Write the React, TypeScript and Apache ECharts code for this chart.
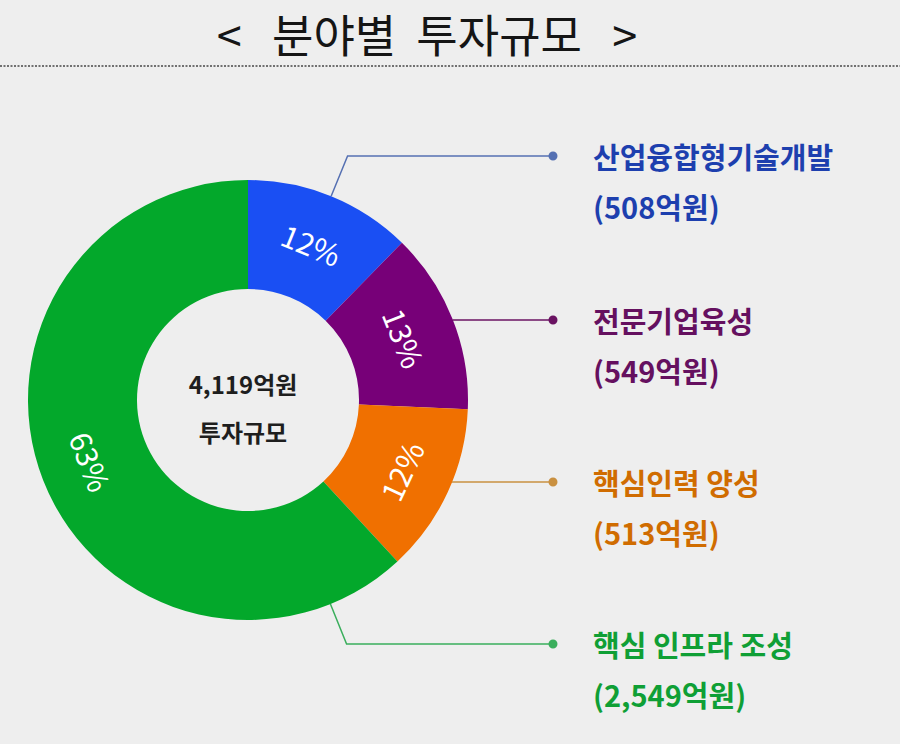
import React, { useEffect, useRef } from "react";
import * as echarts from "echarts";

// ---- data ----
const categories = ["산업융합형기술개발", "전문기업육성", "핵심인력 양성", "핵심 인프라 조성"];
const amounts = [508, 549, 513, 2549]; // 억원
const percentLabels = [12, 13, 12, 63];
const titleText = "<   분야별  투자규모   >";
const centerCaption = "투자규모";

// ---- style ----
const sliceColors = ["#1a4ff3", "#770078", "#f07000", "#03a82b"];
const textColors = ["#1d3fae", "#65105f", "#d06c00", "#0f9f35"];
const lineColors = ["#5570b2", "#6a1262", "#c99040", "#3aae5c"];
const FONT = "'Noto Sans CJK KR', 'Noto Sans', sans-serif";

// ---- layout ----
const CX = 248;
const CY = 400;
const R_OUT = 220;
const R_IN = 111;
const ROW_Y = [156, 320, 482, 644];
const LINE_START_DEG = [22.2, 68.4, 112, 158];
const DOT_X = 553;

const fmt = (n: number) => n.toLocaleString("en-US");

export default function App() {
  const ref = useRef<HTMLDivElement>(null);

  useEffect(() => {
    if (!ref.current) return;
    const chart = echarts.init(ref.current, null, { renderer: "svg" });
    const total = amounts.reduce((a, b) => a + b, 0);

    const innerData = categories.map((name, i) => ({
      name,
      value: amounts[i],
      itemStyle: { color: sliceColors[i] },
    }));

    const outerData = categories.map((name, i) => ({
      name,
      value: amounts[i],
      itemStyle: { color: "rgba(0,0,0,0)" },
      label: {
        color: textColors[i],
        rich: {
          dot: {
            width: 9,
            height: 9,
            borderRadius: 4.5,
            backgroundColor: lineColors[i],
            lineHeight: 50,
          },
          gap: { width: 35.5, lineHeight: 50 },
          pad: { width: 44.5, lineHeight: 50 },
          t: {
            color: textColors[i],
            fontSize: 29,
            fontWeight: "bold",
            fontFamily: FONT,
            lineHeight: 50,
          },
        },
      },
      labelLine: { lineStyle: { color: lineColors[i], width: 1.5 } },
    }));

    chart.setOption({
      animation: false,
      backgroundColor: "#eeeeee",
      title: {
        text: titleText,
        left: 427,
        top: 6,
        padding: 0,
        textAlign: "center",
        textStyle: {
          fontSize: 45,
          lineHeight: 54,
          fontWeight: "normal",
          color: "#151515",
          fontFamily: FONT,
        },
      },
      graphic: [
        {
          type: "line",
          shape: { x1: 0, y1: 66, x2: 900, y2: 66 },
          style: { stroke: "#707070", lineWidth: 2, lineDash: [2, 1.5] },
          silent: true,
        },
        {
          type: "text",
          x: 243,
          y: 383,
          style: {
            text: fmt(total) + "억원",
            fontSize: 24,
            fontWeight: "bold",
            fill: "#1e1e1e",
            fontFamily: FONT,
            align: "center",
            verticalAlign: "middle",
          },
        },
        {
          type: "text",
          x: 243,
          y: 431,
          style: {
            text: centerCaption,
            fontSize: 24,
            fontWeight: "bold",
            fill: "#1e1e1e",
            fontFamily: FONT,
            align: "center",
            verticalAlign: "middle",
          },
        },
      ],
      series: [
        {
          type: "pie",
          center: [CX, CY],
          radius: [R_IN, R_OUT],
          startAngle: 90,
          clockwise: true,
          silent: true,
          avoidLabelOverlap: false,
          label: {
            show: true,
            position: "inside",
            rotate: "tangential",
            color: "#ffffff",
            fontSize: 30,
            fontFamily: FONT,
            formatter: (p: any) => percentLabels[p.dataIndex] + "%",
          },
          labelLine: { show: false },
          data: innerData,
        },
        {
          type: "pie",
          center: [CX, CY],
          radius: [R_IN, R_OUT],
          startAngle: 90,
          clockwise: true,
          silent: true,
          avoidLabelOverlap: false,
          z: 3,
          label: {
            show: true,
            position: "outside",
            formatter: (p: any) =>
              `{dot| }{gap|}{t|${p.name}}\n{pad|}{t|(${fmt(p.value)}억원)}`,
          },
          labelLine: { show: true, length: 20, length2: 20 },
          labelLayout: (params: any) => {
            const i = params.dataIndex;
            const a = (LINE_START_DEG[i] * Math.PI) / 180;
            const sx = CX + R_OUT * Math.sin(a);
            const sy = CY - R_OUT * Math.cos(a);
            const row = ROW_Y[i];
            let pts: number[][];
            if (Math.abs(sy - row) > 3) {
              const t = (row - sy) / -Math.cos(a);
              const bx = sx + t * Math.sin(a);
              pts = [[sx, sy], [bx, row], [DOT_X, row]];
            } else {
              pts = [[sx, row], [(sx + DOT_X) / 2, row], [DOT_X, row]];
            }
            return {
              x: DOT_X - 4.5,
              y: row - 25,
              align: "left",
              verticalAlign: "top",
              labelLinePoints: pts,
            };
          },
          data: outerData,
        },
      ],
    });

    return () => chart.dispose();
  }, []);

  return (
    <div
      ref={ref}
      style={{ position: "fixed", left: 0, top: 0, width: 900, height: 744 }}
    />
  );
}
